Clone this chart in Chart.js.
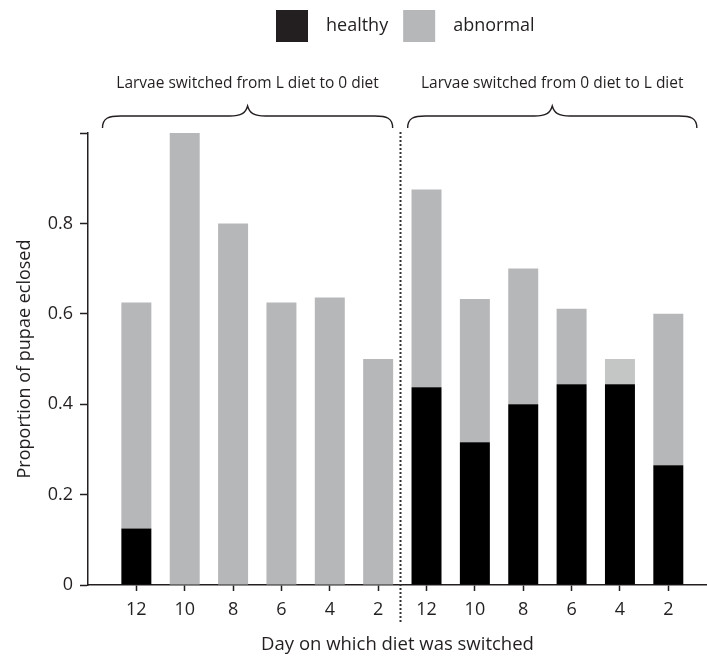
<!DOCTYPE html>
<html>
<head>
<meta charset="utf-8">
<script src="https://cdn.jsdelivr.net/npm/chart.js@4.4.1/dist/chart.umd.min.js"></script>
<style>
  html, body { margin: 0; padding: 0; background: #fff; }
  #wrap { width: 707px; height: 661px; }
</style>
</head>
<body>
<div id="wrap"><canvas id="c" width="707" height="661"></canvas></div>
<script>
// Day on which the diet was switched, for each of the two switching directions
const dayLabels = ['12', '10', '8', '6', '4', '2', '12', '10', '8', '6', '4', '2'];
// Proportion of pupae that eclosed healthy / abnormal
const healthy  = [0.125, 0, 0, 0, 0, 0, 0.4375, 0.316, 0.4, 0.444, 0.444, 0.265];
const abnormal = [0.5, 1.0, 0.8, 0.625, 0.636, 0.5, 0.4375, 0.317, 0.3, 0.167, 0.056, 0.335];
const groupTitles = ['Larvae switched from L diet to 0 diet', 'Larvae switched from 0 diet to L diet'];
const yTicks = [0, 0.2, 0.4, 0.6, 0.8, 1.0];

const INK = '#231f20';
const FONT = "'Open Sans', 'DejaVu Sans', sans-serif";
const GREY = '#b6b7b9';
const GREY_LIGHT = '#c4c6c5';

const positions = dayLabels.map((_, i) => i + 1);
const abnormalColors = abnormal.map((_, i) => (i === 10 ? GREY_LIGHT : GREY));

// Dotted divider, braces, group titles and the legend row
const decor = {
  id: 'decor',
  afterDraw(chart) {
    const ctx = chart.ctx;
    const xs = chart.scales.x;
    const area = chart.chartArea;
    ctx.save();

    // dotted divider between the two groups
    const xd = Math.round(xs.getPixelForValue(6.46)) + 0.5;
    ctx.strokeStyle = '#333';
    ctx.lineWidth = 2;
    ctx.setLineDash([2, 2]);
    ctx.beginPath();
    ctx.moveTo(xd, area.top - 1);
    ctx.lineTo(xd, area.bottom + 38);
    ctx.stroke();
    ctx.setLineDash([]);

    // curly braces over each group
    const braces = [[0.30, 6.30], [6.61, 12.59]];
    const yEnd = 128, yFlat = 116, yTip = 106;
    ctx.strokeStyle = INK;
    ctx.lineWidth = 1.4;
    braces.forEach(([a, b], gi) => {
      const x0 = xs.getPixelForValue(a);
      const x1 = xs.getPixelForValue(b);
      const xm = (x0 + x1) / 2;
      ctx.beginPath();
      ctx.moveTo(x0, yEnd);
      ctx.bezierCurveTo(x0, yFlat + 2, x0 + 6, yFlat, x0 + 18, yFlat);
      ctx.lineTo(xm - 18, yFlat);
      ctx.bezierCurveTo(xm - 6, yFlat, xm - 2, yFlat - 3, xm, yTip);
      ctx.bezierCurveTo(xm + 2, yFlat - 3, xm + 6, yFlat, xm + 18, yFlat);
      ctx.lineTo(x1 - 18, yFlat);
      ctx.bezierCurveTo(x1 - 6, yFlat, x1, yFlat + 2, x1, yEnd);
      ctx.stroke();

      ctx.fillStyle = INK;
      ctx.font = '15.5px ' + FONT;
      ctx.textAlign = 'center';
      ctx.textBaseline = 'middle';
      ctx.fillText(groupTitles[gi], xm, 84);
    });

    // legend row
    const items = chart.data.datasets.map(ds => ({
      label: ds.label,
      color: ds.legendColor
    }));
    ctx.font = '18px ' + FONT;
    ctx.textAlign = 'left';
    ctx.textBaseline = 'middle';
    let lx = 276;
    items.forEach(it => {
      ctx.fillStyle = it.color;
      ctx.fillRect(lx, 10, 32, 32);
      ctx.fillStyle = INK;
      ctx.fillText(it.label, lx + 50, 26);
      lx += 50 + ctx.measureText(it.label).width + 15;
    });

    ctx.restore();
  }
};

new Chart(document.getElementById('c'), {
  type: 'bar',
  data: {
    datasets: [
      {
        label: 'healthy',
        data: positions.map((x, i) => ({ x, y: healthy[i] })),
        backgroundColor: '#000000',
        legendColor: INK,
        borderWidth: 0
      },
      {
        label: 'abnormal',
        data: positions.map((x, i) => ({ x, y: abnormal[i] })),
        backgroundColor: abnormalColors,
        legendColor: GREY,
        borderWidth: 0
      }
    ]
  },
  options: {
    responsive: false,
    animation: false,
    devicePixelRatio: 1,
    layout: { padding: { top: 133, right: 0, bottom: 0, left: 0 } },
    datasets: { bar: { categoryPercentage: 1, barPercentage: 0.62 } },
    plugins: {
      legend: { display: false },
      tooltip: { enabled: false }
    },
    scales: {
      x: {
        type: 'linear',
        stacked: true,
        min: 0,
        max: 12.8,
        offset: false,
        afterBuildTicks(scale) {
          scale.ticks = positions.map(v => ({ value: v }));
        },
        afterFit(scale) { scale.height = 76; },
        ticks: {
          autoSkip: false,
          maxRotation: 0,
          padding: 8,
          color: INK,
          font: { family: FONT, size: 18 },
          callback: (v) => dayLabels[Math.round(v) - 1] || ''
        },
        grid: {
          display: true,
          offset: false,
          drawOnChartArea: false,
          drawTicks: true,
          tickLength: 6,
          tickWidth: 1.5,
          color: INK
        },
        border: { display: true, color: INK, width: 1.5 },
        title: {
          display: true,
          text: 'Day on which diet was switched',
          color: INK,
          font: { family: FONT, size: 18.5 },
          padding: { top: 0, bottom: 5 }
        }
      },
      y: {
        stacked: true,
        min: 0,
        max: 1,
        afterBuildTicks(scale) {
          scale.ticks = yTicks.map(v => ({ value: v }));
        },
        afterFit(scale) { scale.width = 88; },
        ticks: {
          padding: 7,
          color: INK,
          font: { family: FONT, size: 18 },
          callback: (v) => (v >= 1 ? '' : String(+v.toFixed(1)))
        },
        grid: {
          display: true,
          drawOnChartArea: false,
          drawTicks: true,
          tickLength: 8,
          tickWidth: 1.5,
          color: INK
        },
        border: { display: true, color: INK, width: 1.5 },
        title: {
          display: true,
          text: 'Proportion of pupae eclosed',
          color: INK,
          font: { family: FONT, size: 18 },
          padding: { top: 14, bottom: 0 }
        }
      }
    }
  },
  plugins: [decor]
});
</script>
</body>
</html>
